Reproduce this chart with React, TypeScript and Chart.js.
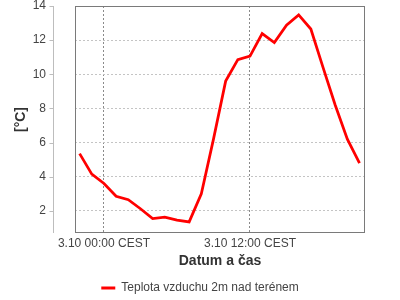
import { useEffect, useRef } from "react";
import { Chart, registerables } from "chart.js";

Chart.register(...registerables);

// Hours relative to 3.10 00:00 CEST
const hoursFromMidnight = [-2, -1, 0, 1, 2, 3, 4, 5, 6, 7, 8, 9, 10, 11, 12, 13, 14, 15, 16, 17, 18, 19, 20, 21];
const temperatures = [5.35, 4.15, 3.6, 2.85, 2.65, 2.12, 1.55, 1.63, 1.45, 1.35, 3.0, 6.2, 9.6, 10.86, 11.06, 12.38, 11.86, 12.88, 13.48, 12.65, 10.4, 8.2, 6.2, 4.8];
const xTickHours = [0, 12];
const xTickLabels = ["3.10 00:00 CEST", "3.10 12:00 CEST"];
const yTicks = [2, 4, 6, 8, 10, 12, 14];
const seriesLabel = "Teplota vzduchu 2m nad terénem";
const xTitle = "Datum a čas";
const yTitle = "[°C]";

const FONT = "'Liberation Sans', Arial, sans-serif";

const framePlugin = {
  id: "frame",
  beforeDatasetsDraw(chart: any) {
    const { ctx, chartArea } = chart;
    ctx.save();
    ctx.setLineDash([]);
    ctx.lineWidth = 1;
    ctx.strokeStyle = "#7a7a7a";
    ctx.strokeRect(chartArea.left + 0.5, chartArea.top + 0.5, chartArea.right - chartArea.left - 1, chartArea.bottom - chartArea.top - 1);
    const ax = Math.round(chartArea.left - 22) + 0.5;
    ctx.strokeStyle = "#bdbdbd";
    ctx.beginPath();
    ctx.moveTo(ax, chartArea.top);
    ctx.lineTo(ax, chartArea.bottom);
    const y = chart.scales.y;
    for (const t of y.ticks) {
      const py = Math.round(y.getPixelForValue(t.value)) + 0.5;
      ctx.moveTo(ax - 4, py);
      ctx.lineTo(ax, py);
    }
    ctx.stroke();
    ctx.restore();
  },
};

export default function App() {
  const ref = useRef<HTMLCanvasElement | null>(null);
  useEffect(() => {
    document.body.style.margin = "0";
    const canvas = ref.current;
    if (!canvas) return;
    const chart = new Chart(canvas, {
      type: "line",
      data: {
        datasets: [
          {
            label: seriesLabel,
            data: hoursFromMidnight.map((h, i) => ({ x: h, y: temperatures[i] })),
            borderColor: "#ff0000",
            backgroundColor: "#ff0000",
            borderWidth: 2.75,
            pointRadius: 0,
            tension: 0,
            fill: false,
          },
        ],
      },
      options: {
        animation: false,
        responsive: false,
        layout: { padding: { left: 0, right: 0, top: 6, bottom: -4 } },
        plugins: {
          tooltip: { enabled: false },
          legend: {
            display: true,
            position: "bottom",
            labels: {
              font: { family: FONT, size: 12 },
              color: "#444444",
              boxWidth: 14,
              boxHeight: 3,
              padding: 5,
              generateLabels: () => [
                {
                  text: seriesLabel,
                  fillStyle: "#ff0000",
                  strokeStyle: "#ff0000",
                  lineWidth: 0,
                  hidden: false,
                  datasetIndex: 0,
                  fontColor: "#444444",
                } as any,
              ],
            },
          },
        },
        scales: {
          x: {
            type: "linear",
            min: -2.38,
            max: 21.45,
            afterBuildTicks: (scale: any) => {
              scale.ticks = xTickHours.map((v) => ({ value: v }));
            },
            afterFit: (scale: any) => {
              const lg = scale.chart.legend;
              scale.height = 71 - (lg && lg.height ? lg.height : 27);
              scale.paddingLeft = 0;
              scale.paddingRight = 35;
            },
            border: { display: false, dash: [2, 2] },
            grid: {
              color: "#8a8a8a",
              lineWidth: 1,
              drawTicks: false,
            },
            ticks: {
              autoSkip: false,
              maxRotation: 0,
              padding: 3,
              font: { family: FONT, size: 12 },
              color: "#444444",
              callback: (value: any) => {
                const idx = xTickHours.indexOf(Number(value));
                return idx >= 0 ? xTickLabels[idx] : "";
              },
            },
            title: {
              display: true,
              text: xTitle,
              font: { family: FONT, size: 14, weight: "bold" },
              color: "#333333",
              padding: { top: 0, bottom: 7.5 },
            },
          },
          y: {
            type: "linear",
            min: 0.7,
            max: 14,
            afterBuildTicks: (scale: any) => {
              scale.ticks = yTicks.map((v) => ({ value: v }));
            },
            afterFit: (scale: any) => {
              scale.width = 75;
              scale.paddingTop = 0;
              scale.paddingBottom = 0;
            },
            border: { display: false, dash: [2, 2] },
            grid: {
              color: "#c4c4c4",
              lineWidth: 1,
              drawTicks: true,
              tickLength: 26,
              tickColor: "rgba(0,0,0,0)",
            },
            ticks: {
              padding: 3,
              font: { family: FONT, size: 12 },
              color: "#444444",
            },
            title: {
              display: true,
              text: yTitle,
              font: { family: FONT, size: 14, weight: "bold" },
              color: "#333333",
              padding: { top: 13, bottom: 0 },
            },
          },
        },
      } as any,
      plugins: [framePlugin],
    });
    return () => chart.destroy();
  }, []);
  return (
    <div style={{ width: 400, height: 300 }}>
      <canvas ref={ref} width={400} height={300} style={{ width: 400, height: 300 }} />
    </div>
  );
}
